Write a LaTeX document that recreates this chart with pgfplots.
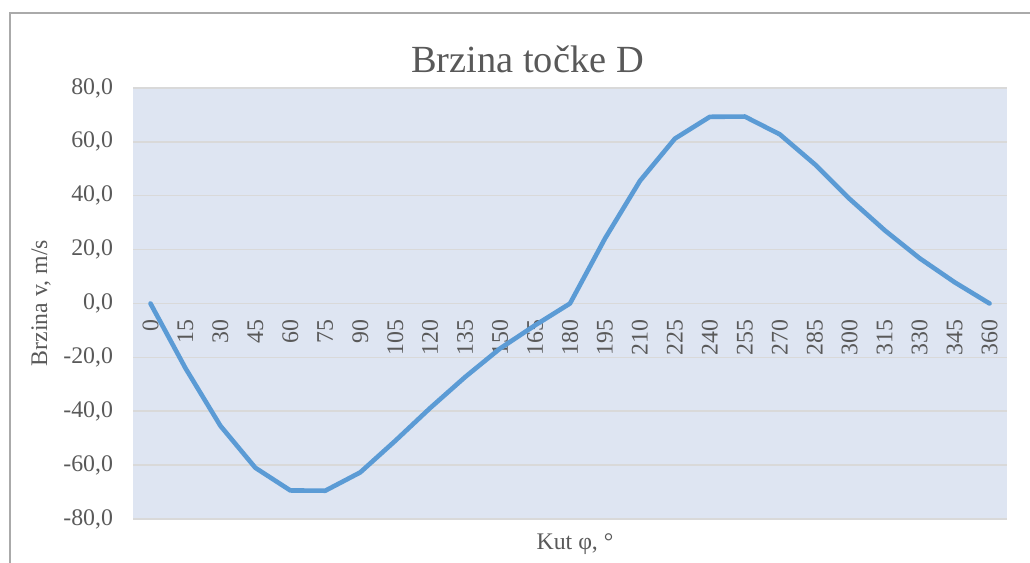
\documentclass[border=0pt]{standalone}
\usepackage{pgfplots}
\usepackage{pgfplotstable}
\pgfplotsset{compat=1.18}
\usepackage{fontspec}
\setmainfont{Liberation Serif}
\definecolor{bgc}{RGB}{222,229,242}
\definecolor{gridc}{RGB}{217,217,217}
\definecolor{txt}{RGB}{89,89,89}
\definecolor{linec}{RGB}{91,155,213}
\definecolor{framec}{RGB}{170,170,170}
\pgfplotstableread{
i v
0 0
1 -24.0
2 -45.4
3 -61.0
4 -69.4
5 -69.5
6 -62.7
7 -51.0
8 -38.8
9 -27.3
10 -16.7
11 -8.1
12 0
13 24.1
14 45.5
15 61.2
16 69.3
17 69.4
18 62.8
19 51.7
20 38.8
21 27.2
22 16.8
23 7.9
24 0
}\datatable
\pgfplotsset{base/.style={
  at={(66.5bp,22bp)}, anchor=south west,
  scale only axis, width=437bp, height=215.5bp,
  xmin=-0.5, xmax=24.5, ymin=-80, ymax=80}}
\begin{document}
\begin{tikzpicture}
\useasboundingbox (0,0) rectangle (515bp,281.5bp);
\draw[framec, line width=0.7bp] (5bp,0) -- (5bp,275bp) -- (515bp,275bp);
\begin{axis}[
  base,
  axis x line=middle, axis y line=left,
  axis line style={draw=none,-},
  axis background/.style={fill=bgc},
  xtick={0,...,24},
  xticklabels={0,15,30,45,60,75,90,105,120,135,150,165,180,195,210,225,240,255,270,285,300,315,330,345,360},
  ytick={-80,-60,...,80},
  major tick length=0pt,
  ymajorgrids, grid style={gridc, line width=0.75bp},
  tick label style={font=\fontsize{11.9bp}{14bp}\selectfont, text=txt},
  xticklabel style={rotate=90, anchor=east, xshift=-4.5bp},
  yticklabel style={xshift=-6.5bp},
  /pgf/number format/.cd, fixed, fixed zerofill, precision=1, use comma, assume math mode=true,
]
\end{axis}
\begin{axis}[base, hide axis]
\addplot[linec, line width=2.3bp, line join=round, line cap=round] table[x=i, y=v] {\datatable};
\end{axis}
\node[text=txt, font=\fontsize{19.2bp}{22bp}\selectfont] at (263.75bp,252bp) {Brzina točke D};
\node[text=txt, font=\fontsize{11.9bp}{14bp}\selectfont, rotate=90] at (20.5bp,130bp) {Brzina v, m/s};
\node[text=txt, font=\fontsize{11.9bp}{14bp}\selectfont] at (287.5bp,9.5bp) {Kut φ, °};
\end{tikzpicture}
\end{document}
